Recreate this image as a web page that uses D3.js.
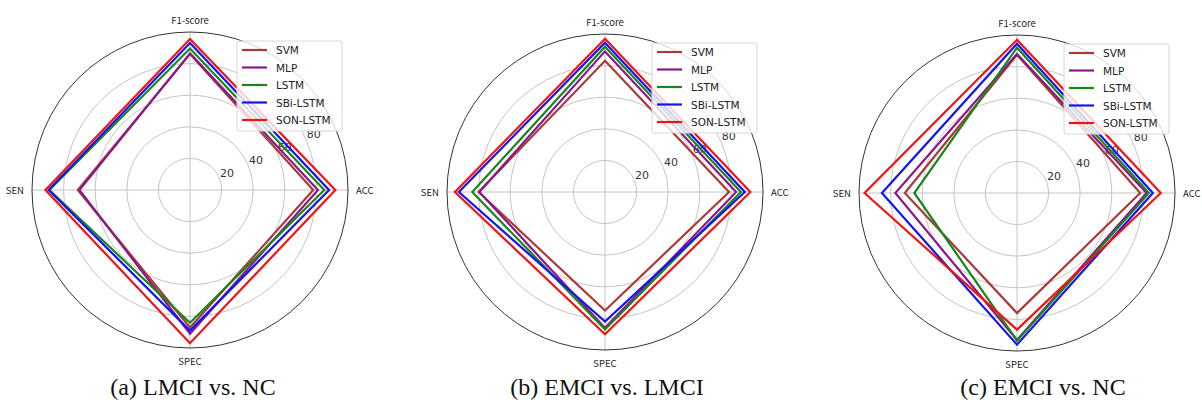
<!DOCTYPE html>
<html>
<head>
<meta charset="utf-8">
<script src="https://cdn.jsdelivr.net/npm/d3@7"></script>
<style>
  body { margin: 0; background: #fff; }
  svg { display: block; }
</style>
</head>
<body>
<svg width="1202" height="405"></svg>
<script>
// axes go clockwise from the top
const axes = ["F1-score", "ACC", "SPEC", "SEN"];
const models = ["SVM", "MLP", "LSTM", "SBi-LSTM", "SON-LSTM"];
const colors = ["#a83a3a", "#8a1a8a", "#1a861a", "#1414f0", "#f01414"];
const rTicks = [20, 40, 60, 80];
const captions = ["(a) LMCI vs. NC", "(b) EMCI vs. LMCI", "(c) EMCI vs. NC"];

// values per model: [F1-score, ACC, SPEC, SEN]
const lmciNc = [
  [86, 78, 87, 71],
  [86.5, 81, 91, 70],
  [89.5, 85, 84, 89],
  [93, 88, 89, 89.5],
  [95.5, 92, 97, 91.5]
];
const emciLmci = [
  [83, 78.5, 75, 80],
  [89, 83, 86, 79.5],
  [92, 86, 87, 84],
  [94.5, 88.5, 82, 92.5],
  [97, 92, 90, 95]
];
const emciNc = [
  [87.5, 78, 76, 71],
  [88, 82, 93, 77],
  [92, 83.5, 93.5, 65],
  [94.5, 86, 96, 85.5],
  [97, 91, 86.5, 96.5]
];
const panelData = [lmciNc, emciLmci, emciNc];

const centers = [[190, 190], [605, 192], [1017, 193]];
const captionX = [193, 607, 1043];
const R = 158;

const svg = d3.select("svg");
const rScale = d3.scaleLinear().domain([0, 100]).range([0, R]);
const angle = i => i * Math.PI / 2;

const line = d3.lineRadial()
  .angle((d, i) => angle(i))
  .radius(d => rScale(d))
  .curve(d3.curveLinearClosed);

panelData.forEach((data, p) => {
  const [cx, cy] = centers[p];
  const g = svg.append("g").attr("transform", `translate(${cx},${cy})`);

  // grid circles
  g.selectAll("circle.grid")
    .data(rTicks)
    .enter()
    .append("circle")
    .attr("class", "grid")
    .attr("r", d => rScale(d))
    .attr("fill", "none")
    .attr("stroke", "#c4c4c4")
    .attr("stroke-width", 1);

  // spokes
  g.selectAll("line.spoke")
    .data(axes)
    .enter()
    .append("line")
    .attr("x1", 0)
    .attr("y1", 0)
    .attr("x2", (d, i) => R * Math.sin(angle(i)))
    .attr("y2", (d, i) => -R * Math.cos(angle(i)))
    .attr("stroke", "#c4c4c4")
    .attr("stroke-width", 1);

  // outer frame
  g.append("circle")
    .attr("r", R)
    .attr("fill", "none")
    .attr("stroke", "#333")
    .attr("stroke-width", 1);

  // radial tick labels
  const la = 24 * Math.PI / 180;
  g.selectAll("text.rtick")
    .data(rTicks)
    .enter()
    .append("text")
    .attr("x", d => (rScale(d) + 9) * Math.cos(la))
    .attr("y", d => -(rScale(d) + 9) * Math.sin(la))
    .attr("text-anchor", "middle")
    .attr("dominant-baseline", "central")
    .attr("font-family", "DejaVu Sans")
    .attr("font-size", 11)
    .attr("fill", "#333")
    .text(d => d);

  // model polygons
  g.selectAll("path.model")
    .data(data)
    .enter()
    .append("path")
    .attr("d", d => line(d))
    .attr("fill", "none")
    .attr("stroke", (d, i) => colors[i])
    .attr("stroke-width", 2.2)
    .attr("stroke-linejoin", "miter");

  // axis labels
  const lab = R + 8;
  g.selectAll("text.axis")
    .data(axes)
    .enter()
    .append("text")
    .attr("x", (d, i) => lab * Math.sin(angle(i)))
    .attr("y", (d, i) => -lab * Math.cos(angle(i)))
    .attr("text-anchor", (d, i) => i === 1 ? "start" : i === 3 ? "end" : "middle")
    .attr("dominant-baseline", (d, i) => i === 0 ? "auto" : i === 2 ? "hanging" : "central")
    .attr("font-family", "Noto Sans CJK SC")
    .attr("font-size", 9.5)
    .attr("fill", "#222")
    .text(d => d);

  // legend
  const lg = g.append("g").attr("transform", "translate(47,-149)");
  lg.append("rect")
    .attr("width", 105)
    .attr("height", 90)
    .attr("rx", 2)
    .attr("fill", "#fff")
    .attr("fill-opacity", 0.8)
    .attr("stroke", "#d6d6d6");
  const rows = lg.selectAll("g.item")
    .data(models)
    .enter()
    .append("g")
    .attr("transform", (d, i) => `translate(0,${9 + i * 17.5})`);
  rows.append("line")
    .attr("x1", 5)
    .attr("x2", 30)
    .attr("stroke", (d, i) => colors[i])
    .attr("stroke-width", 2.2);
  rows.append("text")
    .attr("x", 39)
    .attr("dominant-baseline", "central")
    .attr("font-family", "DejaVu Sans")
    .attr("font-size", 10.5)
    .attr("fill", "#222")
    .text(d => d);

  // caption
  svg.append("text")
    .attr("x", captionX[p])
    .attr("y", 395)
    .attr("text-anchor", "middle")
    .attr("font-family", "Liberation Serif")
    .attr("font-size", 24)
    .attr("fill", "#111")
    .text(captions[p]);
});
</script>
</body>
</html>
